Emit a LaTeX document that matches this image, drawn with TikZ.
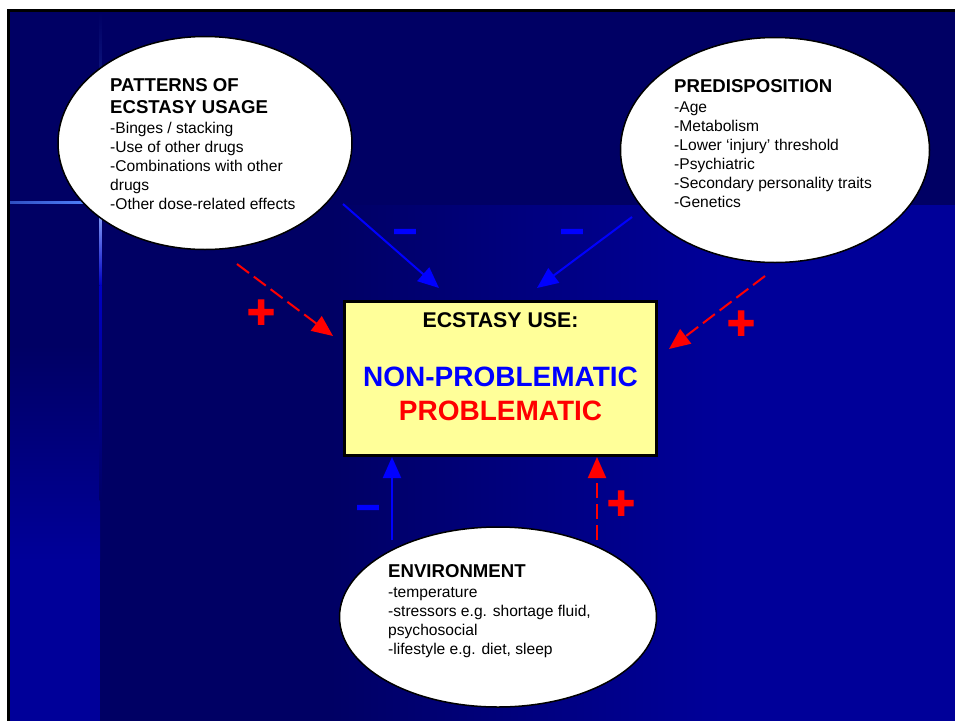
\documentclass[tikz,border=0pt]{standalone}
\usepackage{fontspec}
\setmainfont{Liberation Sans}
\newfontfamily\signfont[FakeBold=2.5]{Liberation Sans Bold}
\usetikzlibrary{positioning,shapes,arrows.meta,calc}

\definecolor{slidenavy}{RGB}{0,0,100}
\definecolor{slideblue}{RGB}{0,0,153}
\definecolor{glowblue}{RGB}{80,130,255}
\definecolor{boxyellow}{RGB}{255,255,153}

\newcommand{\ovalhead}[1]{{\fontsize{18.6}{19}\selectfont\bfseries #1}}

\begin{document}
\begin{tikzpicture}[x=1pt,y=-1pt,
  oval/.style={ellipse,draw=black,line width=1.5pt,fill=white,inner sep=0pt},
  listtxt/.style={anchor=north west,align=left,inner sep=0pt,font=\fontsize{15.6}{19}\selectfont},
  usebox/.style={rectangle,draw=black,line width=3pt,fill=boxyellow,minimum width=312pt,minimum height=154pt},
  negarrow/.style={draw=blue,line width=2pt,-{Triangle[length=21pt,width=18pt]}},
  posarrow/.style={draw=red,line width=2pt,dash pattern=on 15pt off 6pt,-{Triangle[length=21pt,width=18pt]}},
  minussign/.style={text=blue,font=\fontsize{42}{42}\signfont,inner sep=0pt},
  plussign/.style={text=red,font=\fontsize{48}{48}\signfont,inner sep=0pt}]
\useasboundingbox (0,0) rectangle (955,720);

% slide background
\fill[white] (0,0) rectangle (955,720);
\fill[slidenavy] (8.5,10.5) rectangle (956,721);
\fill[slideblue] (718,205) rectangle (956,721);
\shade[left color=slidenavy,right color=slideblue] (330,205) rectangle (720,721);
\fill[slideblue] (8.5,558) rectangle (100,721);
\shade[top color=slidenavy,bottom color=slideblue] (8.5,345) rectangle (100,560);
\shade[left color=slidenavy!40!glowblue,right color=glowblue] (10,201.5) rectangle (90,203.5);
\shade[top color=slidenavy,bottom color=slidenavy!50!glowblue] (99.5,12) rectangle (101.5,205);
\shade[top color=glowblue!60!white,bottom color=blue!60!slidenavy] (99.5,205) rectangle (101.5,285);
\shade[top color=blue!60!slidenavy,bottom color=slidenavy] (99.5,285) rectangle (101.5,500);
\draw[black,line width=3pt] (8.5,721) -- (8.5,10.5) -- (956,10.5);

% ovals
\node[oval,minimum width=294pt,minimum height=213pt] (usage) at (205,143) {};
\node[oval,minimum width=309pt,minimum height=225pt] (predisp) at (775,150) {};
\node[oval,minimum width=317pt,minimum height=180pt] (environ) at (498,617) {};

\node[listtxt] (usagetxt) at (110,78.5) {\ovalhead{PATTERNS OF}\\[3pt]\ovalhead{ECSTASY USAGE}\\[1pt]-Binges / stacking\\-Use of other drugs\\-Combinations with other\\drugs\\-Other dose-related effects};
\node[listtxt] (predisptxt) at (674,79) {\ovalhead{PREDISPOSITION}\\[1.5pt]-Age\\-Metabolism\\-Lower ‘injury’ threshold\\-Psychiatric\\-Secondary personality traits\\-Genetics};
\node[listtxt] (environtxt) at (388,564) {\ovalhead{ENVIRONMENT}\\[1.5pt]-temperature\\-stressors e.g. shortage fluid,\\psychosocial\\-lifestyle e.g. diet, sleep};

% central box
\node[usebox] (usebox) at (500.5,378.5) {};
\node[anchor=base,font=\fontsize{21.3}{24}\selectfont\bfseries] (usehead) at (500.5,327) {ECSTASY USE:};
\node[anchor=base,text=blue,font=\fontsize{28}{32}\selectfont\bfseries] (nonprob) at (500.5,386) {NON-PROBLEMATIC};
\node[anchor=base,text=red,font=\fontsize{28}{32}\selectfont\bfseries] (prob) at (500.5,420) {PROBLEMATIC};

% arrow ends
\coordinate (usagefrom) at (343,204);
\coordinate (usageto) at (439,288);
\coordinate (predispfrom) at (632,217);
\coordinate (predispto) at (537,288);
\coordinate (usageplusfrom) at (237,264);
\coordinate (usageplusto) at (333,336);
\coordinate (predispplusfrom) at (765,276);
\coordinate (predispplusto) at (669,349);
\coordinate (environfrom) at (392,540);
\coordinate (environplusfrom) at (597,540);

\draw[negarrow] (usagefrom) -- (usageto);
\draw[negarrow] (predispfrom) -- (predispto);
\draw[posarrow] (usageplusfrom) -- (usageplusto);
\draw[posarrow] (predispplusfrom) -- (predispplusto);
\draw[negarrow] (environfrom) -- (environfrom |- usebox.south);
\draw[posarrow] (environplusfrom) -- (environplusfrom |- usebox.south);

% signs
\node[minussign] (usageminus) at (405,236) {–};
\node[minussign] (predispminus) at (572,236) {–};
\node[minussign] (environminus) at (368,512) {–};
\node[plussign] (usageplus) at (261,314) {+};
\node[plussign] (predispplus) at (741,325) {+};
\node[plussign] (environplus) at (621,505) {+};
\end{tikzpicture}
\end{document}
